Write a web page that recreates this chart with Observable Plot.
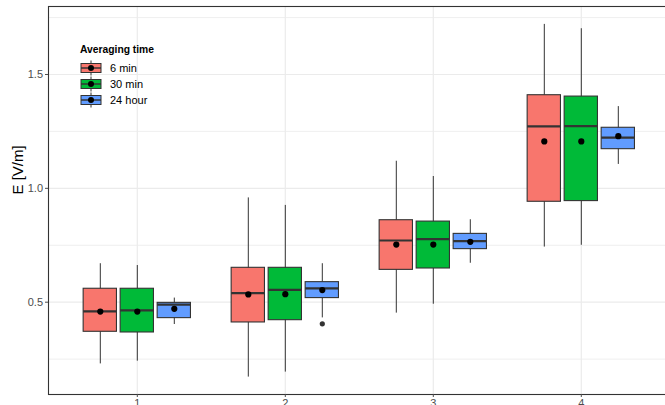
<!DOCTYPE html>
<html>
<head>
<meta charset="utf-8">
<script src="https://cdn.jsdelivr.net/npm/d3@7"></script>
<script src="https://cdn.jsdelivr.net/npm/@observablehq/plot@0.6"></script>
<style>
  html, body { margin: 0; padding: 0; background: white; overflow: hidden; }
  #wrap { position: relative; width: 665px; height: 405px; overflow: hidden; }
  #wrap svg.chart { overflow: hidden; }
  #legend { position: absolute; left: 0; top: 0; }
</style>
</head>
<body>
<div id="wrap"></div>
<script>
// ---- data ----
const groups = [1, 2, 3, 4];
const seriesNames = ["6 min", "30 min", "24 hour"];
const seriesColors = ["#F8766D", "#00BA38", "#619CFF"];

const whiskerLow6  = [0.229, 0.171, 0.452, 0.742];
const q1_6         = [0.370, 0.411, 0.642, 0.941];
const median6      = [0.460, 0.540, 0.771, 1.272];
const q3_6         = [0.559, 0.651, 0.860, 1.409];
const whiskerHigh6 = [0.669, 0.958, 1.119, 1.720];
const mean6        = [0.459, 0.534, 0.753, 1.206];

const whiskerLow30  = [0.241, 0.193, 0.491, 0.750];
const q1_30         = [0.367, 0.421, 0.648, 0.944];
const median30      = [0.464, 0.554, 0.777, 1.273];
const q3_30         = [0.559, 0.651, 0.854, 1.403];
const whiskerHigh30 = [0.661, 0.925, 1.052, 1.701];
const mean30        = [0.459, 0.535, 0.753, 1.206];

const whiskerLow24  = [0.402, 0.431, 0.671, 1.105];
const q1_24         = [0.430, 0.518, 0.733, 1.172];
const median24      = [0.489, 0.561, 0.768, 1.223];
const q3_24         = [0.497, 0.588, 0.800, 1.266];
const whiskerHigh24 = [0.518, 0.669, 0.862, 1.359];
const mean24        = [0.471, 0.553, 0.765, 1.229];

const outlierGroup  = [2];
const outlierSeries = ["24 hour"];
const outlierValue  = [0.405];

const yMajorTicks = [0.5, 1.0, 1.5];
const yMinorTicks = [0.25, 0.75, 1.25, 1.75];
const xTicks = [1, 2, 3, 4];
const yLabel = "E [V/m]";
const legendTitle = "Averaging time";

// ---- build table ----
const stats = [
  [whiskerLow6, q1_6, median6, q3_6, whiskerHigh6, mean6],
  [whiskerLow30, q1_30, median30, q3_30, whiskerHigh30, mean30],
  [whiskerLow24, q1_24, median24, q3_24, whiskerHigh24, mean24]
];
const dodge = 0.25, halfW = 0.1125;
const rows = [];
seriesNames.forEach((s, si) => {
  const [lo, q1, md, q3, hi, mn] = stats[si];
  groups.forEach((g, gi) => {
    const xc = g + (si - 1) * dodge;
    rows.push({series: s, color: seriesColors[si], x: xc, x1: xc - halfW, x2: xc + halfW,
      lo: lo[gi], q1: q1[gi], md: md[gi], q3: q3[gi], hi: hi[gi], mean: mn[gi]});
  });
});
const outliers = outlierGroup.map((g, i) => {
  const si = seriesNames.indexOf(outlierSeries[i]);
  return {x: g + (si - 1) * dodge, y: outlierValue[i]};
});

const font = "'Liberation Sans', Arial, Helvetica, sans-serif";
const grid = "#EBEBEB", dark = "#333333", txt = "#4D4D4D";

const chart = Plot.plot({
  width: 665, height: 405,
  marginLeft: 48, marginTop: 6, marginBottom: 11, marginRight: -4.6,
  style: {fontFamily: font, background: "white"},
  x: {type: "linear", domain: [0.4, 4.6], axis: null},
  y: {domain: [0.0946, 1.7986], axis: null},
  marks: [
    Plot.ruleY(yMinorTicks, {y: d => d, stroke: grid, strokeWidth: 0.8}),
    Plot.ruleY(yMajorTicks, {y: d => d, stroke: grid, strokeWidth: 1.2}),
    Plot.ruleX(xTicks, {x: d => d, stroke: grid, strokeWidth: 1.2}),
    Plot.ruleX(rows, {x: "x", y1: "lo", y2: "hi", stroke: dark, strokeWidth: 1}),
    Plot.rectY(rows, {x1: "x1", x2: "x2", y1: "q1", y2: "q3", fill: "color", stroke: dark, strokeWidth: 1.1}),
    Plot.ruleY(rows, {y: "md", x1: "x1", x2: "x2", stroke: dark, strokeWidth: 2.2}),
    Plot.dot(outliers, {x: "x", y: "y", r: 2.6, fill: dark, stroke: null}),
    Plot.dot(rows, {x: "x", y: "mean", r: 3.1, fill: "black", stroke: null}),
    Plot.frame({stroke: dark, strokeWidth: 1.1}),
    Plot.axisY({ticks: yMajorTicks, tickFormat: d3.format(".1f"), tickSize: 3, tickPadding: 2.5,
      fontSize: 11, color: txt, label: null}),
    Plot.axisX({ticks: xTicks, tickFormat: d3.format("d"), tickSize: 3, tickPadding: 2,
      fontSize: 11, color: txt, label: null}),
    Plot.text([yLabel], {frameAnchor: "left", dx: -30, dy: -6, rotate: -90, fontSize: 15,
      fill: "black", text: d => d})
  ]
});
chart.classList.add("chart");
document.getElementById("wrap").appendChild(chart);

// ---- legend (drawn over the panel, top-left) ----
const lg = d3.select("#wrap").append("svg").attr("id", "legend")
  .attr("width", 200).attr("height", 120)
  .style("font-family", font);
lg.append("text").attr("x", 80).attr("y", 53).attr("font-size", 10.3).attr("font-weight", "bold")
  .attr("fill", "black").text(legendTitle);
seriesNames.forEach((s, i) => {
  const cy = 68 + i * 16;
  const g = lg.append("g");
  g.append("line").attr("x1", 91).attr("x2", 91).attr("y1", cy - 7.5).attr("y2", cy + 7.5)
    .attr("stroke", dark).attr("stroke-width", 1);
  g.append("rect").attr("x", 81).attr("y", cy - 4.5).attr("width", 20).attr("height", 9)
    .attr("fill", seriesColors[i]).attr("stroke", dark).attr("stroke-width", 1);
  g.append("line").attr("x1", 81).attr("x2", 101).attr("y1", cy).attr("y2", cy)
    .attr("stroke", dark).attr("stroke-width", 1.5);
  g.append("circle").attr("cx", 91).attr("cy", cy).attr("r", 3).attr("fill", "black");
  g.append("text").attr("x", 110).attr("y", cy + 4).attr("font-size", 11).attr("fill", "black").text(s);
});
</script>
</body>
</html>
